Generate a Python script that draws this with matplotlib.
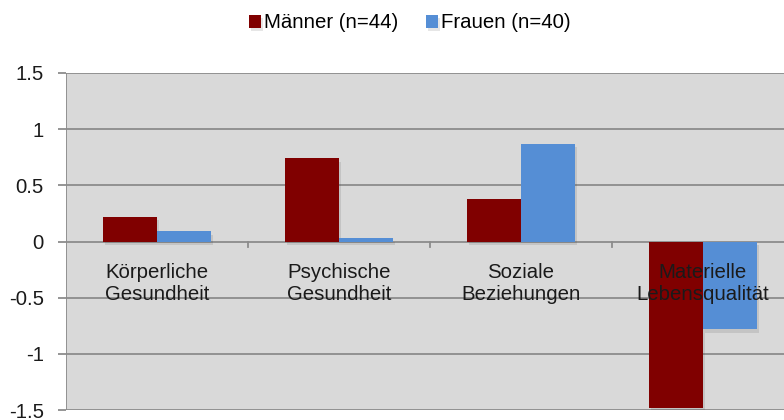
import numpy as np
import matplotlib.pyplot as plt
import matplotlib.patheffects as pe

plt.rcParams["font.family"] = ["Liberation Sans", "DejaVu Sans"]

categories = ["Körperliche\nGesundheit", "Psychische\nGesundheit",
              "Soziale\nBeziehungen", "Materielle\nLebensqualität"]
maenner = [0.22, 0.74, 0.38, -1.48]
frauen = [0.09, 0.03, 0.87, -0.78]
series_labels = ["Männer (n=44)", "Frauen (n=40)"]
yticks = [-1.5, -1, -0.5, 0, 0.5, 1, 1.5]
ytick_labels = ["-1.5", "-1", "-0.5", "0", "0.5", "1", "1.5"]

red = "#800000"
blue = "#558ed5"
grid = "#8c8c8c"

fig = plt.figure(figsize=(7.84, 4.2), dpi=100)
ax = fig.add_axes([66 / 784, 1 - 410 / 420, 728 / 784, 337 / 420])
ax.set_facecolor("#d9d9d9")

x = np.arange(len(categories))
w = 0.297
shadow = [pe.SimplePatchShadow(offset=(1.5, -2.5), alpha=0.12, shadow_rgbFace="#333333"), pe.Normal()]
b1 = ax.bar(x - w / 2, maenner, w, color=red, label=series_labels[0], zorder=3,
            path_effects=shadow)
b2 = ax.bar(x + w / 2, frauen, w, color=blue, label=series_labels[1], zorder=3,
            path_effects=shadow)

ax.set_xlim(-0.5, len(categories) - 0.5)
ax.set_ylim(-1.5, 1.5)
for y in yticks:
    ax.axhline(y, color=grid, lw=1.3, zorder=2)
ax.axvline(-0.5, color=grid, lw=1.3, zorder=2)

# small ticks on zero line at category boundaries
for b in x[:-1] + 0.5:
    ax.plot([b, b], [0, -0.05], color=grid, lw=1.3, zorder=2)

for xi, c in zip(x, categories):
    ax.text(xi, -0.375, c, ha="center", va="center", fontsize=14.7,
            color="#1a1a1a", linespacing=1.25, zorder=5)

ax.set_xticks([])
ax.set_yticks(yticks)
ax.set_yticklabels(ytick_labels, fontsize=14.7, color="#1a1a1a")
ax.tick_params(axis="y", length=6, width=1.3, color=grid, pad=10)
for s in ax.spines.values():
    s.set_visible(False)

fig.legend(handles=[b1, b2], labels=series_labels, loc="center",
           bbox_to_anchor=(410 / 784, 1 - 23 / 420), ncol=2, frameon=False,
           fontsize=14.7, handlelength=0.6, handleheight=0.6, handletextpad=0.15,
           columnspacing=1.35)

fig.savefig("out.png", dpi=100)
